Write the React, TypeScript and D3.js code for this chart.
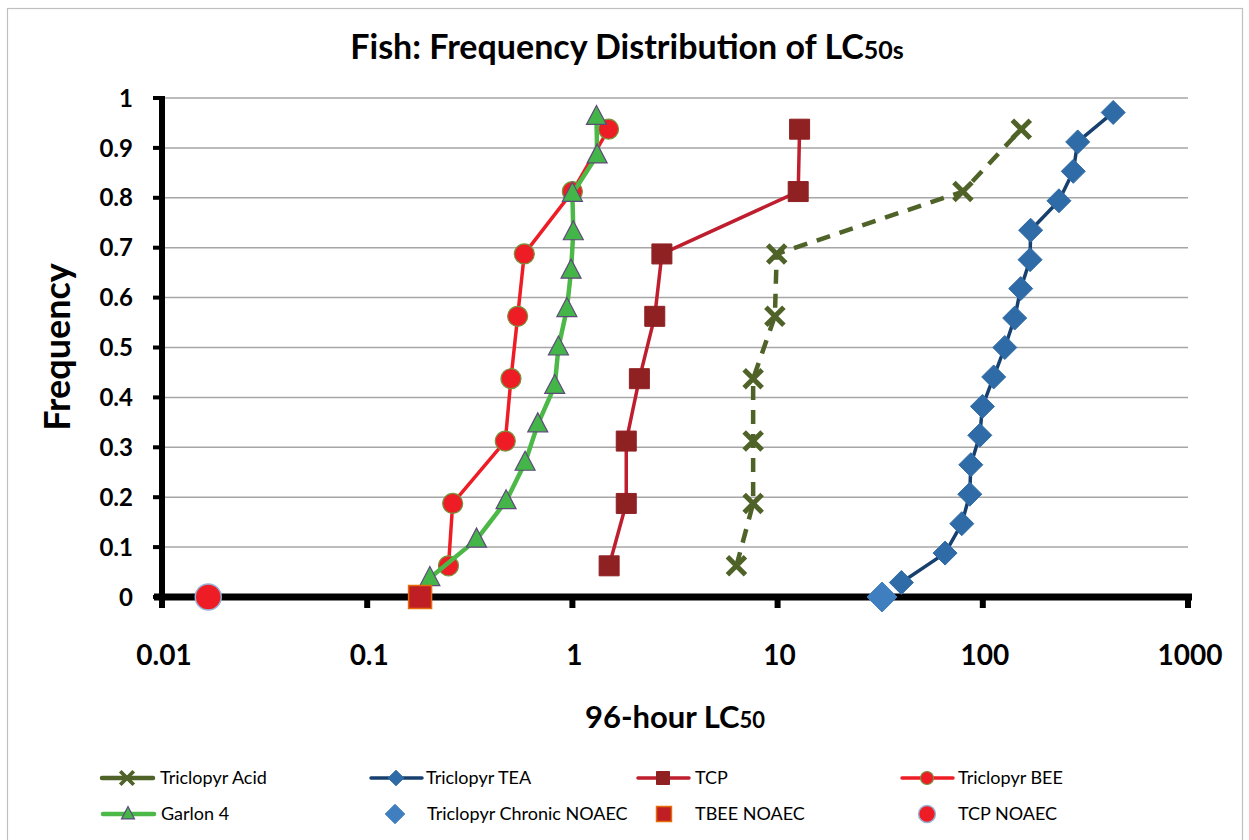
import * as d3 from 'd3';

const WIDTH = 1249;
const HEIGHT = 840;
const PLOT = { left: 162, right: 1188, top: 98, bottom: 597 };
const FONT = 'Lato, "Open Sans", sans-serif';

// frequency ranks
const freq8 = [0.0625, 0.1875, 0.3125, 0.4375, 0.5625, 0.6875, 0.8125, 0.9375];
const freq13 = [0.038, 0.115, 0.192, 0.269, 0.346, 0.423, 0.5, 0.577, 0.654, 0.731, 0.808, 0.885, 0.962];
const freq17 = [0.029, 0.088, 0.147, 0.206, 0.265, 0.324, 0.382, 0.441, 0.5, 0.559, 0.618, 0.676, 0.735, 0.794, 0.853, 0.912, 0.971];

// 96-hour LC50 values (log x axis)
const acidLC50 = [6.3, 7.6, 7.6, 7.6, 9.7, 9.9, 80, 154];
const teaLC50 = [40.1, 65.5, 79, 86.4, 87.4, 96.7, 99.6, 113, 128, 143, 153, 170, 171, 235, 276, 290, 432];
const tcpLC50 = [1.51, 1.83, 1.83, 2.12, 2.52, 2.73, 12.6, 12.8];
const beeLC50 = [0.249, 0.261, 0.471, 0.502, 0.541, 0.583, 1.0, 1.5];
const garlonLC50 = [0.202, 0.341, 0.475, 0.588, 0.678, 0.82, 0.855, 0.94, 0.985, 1.01, 1.0, 1.32, 1.31];

// NOAEC points sit on frequency 0
const chronicNOAEC = [32.3];
const tbeeNOAEC = [0.181];
const tcpNOAEC = [0.0168];

const xTicks = [0.01, 0.1, 1, 10, 100, 1000];
const xTickLabels = ['0.01', '0.1', '1', '10', '100', '1000'];
const yTicks = [0, 0.1, 0.2, 0.3, 0.4, 0.5, 0.6, 0.7, 0.8, 0.9, 1];
const yTickLabels = ['0', '0.1', '0.2', '0.3', '0.4', '0.5', '0.6', '0.7', '0.8', '0.9', '1'];

type Marker = 'x' | 'diamond' | 'square' | 'circle' | 'triangle';

type Series = {
  name: string;
  xs: number[];
  ys: number[];
  line?: string;
  lineWidth?: number;
  dash?: string;
  marker: Marker;
  size: number;
  fill: string;
  stroke: string;
  strokeWidth: number;
};

const series: Series[] = [
  { name: 'Triclopyr Acid', xs: acidLC50, ys: freq8, line: '#4f6228', lineWidth: 4.5, dash: '14,10', marker: 'x', size: 9, fill: 'none', stroke: '#4f6228', strokeWidth: 5 },
  { name: 'Triclopyr TEA', xs: teaLC50, ys: freq17, line: '#17406e', lineWidth: 3.5, marker: 'diamond', size: 12, fill: '#2f6ba6', stroke: '#2f6ba6', strokeWidth: 1 },
  { name: 'TCP', xs: tcpLC50, ys: freq8, line: '#be1e2d', lineWidth: 3.5, marker: 'square', size: 10, fill: '#8f2123', stroke: '#8f2123', strokeWidth: 1 },
  { name: 'Triclopyr BEE', xs: beeLC50, ys: freq8, line: '#ee1c25', lineWidth: 3.5, marker: 'circle', size: 10, fill: '#ee1c25', stroke: '#77933c', strokeWidth: 1.2 },
  { name: 'Garlon 4', xs: garlonLC50, ys: freq13, line: '#4cb848', lineWidth: 4.5, marker: 'triangle', size: 10, fill: '#43b549', stroke: '#604a7b', strokeWidth: 1.2 },
  { name: 'Triclopyr Chronic NOAEC', xs: chronicNOAEC, ys: [0], marker: 'diamond', size: 15, fill: '#3f7fbf', stroke: '#3f7fbf', strokeWidth: 1 },
  { name: 'TBEE NOAEC', xs: tbeeNOAEC, ys: [0], marker: 'square', size: 11.5, fill: '#be1e24', stroke: '#e46c0a', strokeWidth: 1.5 },
  { name: 'TCP NOAEC', xs: tcpNOAEC, ys: [0], marker: 'circle', size: 13, fill: '#ee1c25', stroke: '#95b3d7', strokeWidth: 1.5 },
];

// legend slots: [x of symbol center, x of text, y]
const legendSlots: [number, number, number][] = [
  [127, 160, 778],
  [396, 426, 778],
  [663, 695, 778],
  [927, 958, 778],
  [128, 161, 814],
  [395, 427, 814],
  [664, 695, 814],
  [927, 958, 814],
];

const markerPath = (m: Marker, s: number) => {
  switch (m) {
    case 'x':
      return `M${-s},${-s}L${s},${s}M${-s},${s}L${s},${-s}`;
    case 'diamond':
      return `M0,${-s}L${s},0L0,${s}L${-s},0Z`;
    case 'square':
      return `M${-s},${-s}H${s}V${s}H${-s}Z`;
    case 'triangle':
      return `M0,${-s * 1.15}L${s},${s * 0.75}L${-s},${s * 0.75}Z`;
    default:
      return '';
  }
};

const MarkerShape = ({ s, x, y, scale = 1 }: { s: Series; x: number; y: number; scale?: number }) => {
  const size = s.size * scale;
  if (s.marker === 'circle') {
    return <circle cx={x} cy={y} r={size} fill={s.fill} stroke={s.stroke} strokeWidth={s.strokeWidth} />;
  }
  return (
    <path
      transform={`translate(${x},${y})`}
      d={markerPath(s.marker, size)}
      fill={s.fill}
      stroke={s.stroke}
      strokeWidth={s.marker === 'x' ? s.strokeWidth * scale : s.strokeWidth}
    />
  );
};

const App = () => {
  const xScale = d3.scaleLog().domain([0.01, 1000]).range([PLOT.left, PLOT.right]);
  const yScale = d3.scaleLinear().domain([0, 1]).range([PLOT.bottom, PLOT.top]);

  const line = d3
    .line<[number, number]>()
    .x((d) => xScale(d[0]))
    .y((d) => yScale(d[1]));

  return (
    <svg width={WIDTH} height={HEIGHT} style={{ position: 'absolute', left: 0, top: 0 }} fontFamily={FONT}>
      <rect x={0} y={0} width={WIDTH} height={HEIGHT} fill="#ffffff" />
      <rect x={7.5} y={8.5} width={WIDTH - 14} height={HEIGHT - 6} fill="none" stroke="#bfbfbf" strokeWidth={1.2} />

      {/* title */}
      <text x={627} y={59} textAnchor="middle" fontSize={34} fontWeight="bold" fill="#000">
        Fish: Frequency Distribution of LC<tspan fontSize={25}>50s</tspan>
      </text>

      {/* gridlines */}
      {yTicks.slice(1).map((v) => (
        <line key={v} x1={PLOT.left} x2={PLOT.right} y1={yScale(v)} y2={yScale(v)} stroke="#a6a6a6" strokeWidth={1.5} />
      ))}

      {/* y axis */}
      <line x1={PLOT.left} x2={PLOT.left} y1={PLOT.top - 2} y2={PLOT.bottom} stroke="#000" strokeWidth={6} />
      {yTicks.map((v, i) => (
        <g key={v}>
          <line x1={PLOT.left - 9} x2={PLOT.left} y1={yScale(v)} y2={yScale(v)} stroke="#000" strokeWidth={4} />
          <text x={133} y={yScale(v)} dy="0.36em" textAnchor="end" fontSize={24} fontWeight="bold">
            {yTickLabels[i]}
          </text>
        </g>
      ))}

      {/* x axis */}
      <line x1={PLOT.left - 8} x2={PLOT.right + 4} y1={PLOT.bottom} y2={PLOT.bottom} stroke="#000" strokeWidth={7} />
      {xTicks.map((v, i) => (
        <g key={v}>
          <line x1={xScale(v)} x2={xScale(v)} y1={PLOT.bottom} y2={PLOT.bottom + 11} stroke="#000" strokeWidth={6} />
          <text x={xScale(v) + 2} y={665} textAnchor="middle" fontSize={28} fontWeight="bold">
            {xTickLabels[i]}
          </text>
        </g>
      ))}

      {/* axis titles */}
      <text transform="translate(70,347) rotate(-90)" textAnchor="middle" fontSize={36} fontWeight="bold">
        Frequency
      </text>
      <text x={675} y={728} textAnchor="middle" fontSize={31} fontWeight="bold">
        96-hour LC<tspan fontSize={22}>50</tspan>
      </text>

      {/* series */}
      {series.map((s) => {
        const pts = s.xs.map((x, i) => [x, s.ys[i]] as [number, number]);
        return (
          <g key={s.name}>
            {s.line && (
              <path
                d={line(pts) ?? ''}
                fill="none"
                stroke={s.line}
                strokeWidth={s.lineWidth}
                strokeDasharray={s.dash}
                strokeLinejoin="round"
              />
            )}
            {pts.map((p, i) => (
              <MarkerShape key={i} s={s} x={xScale(p[0])} y={yScale(p[1])} />
            ))}
          </g>
        );
      })}

      {/* legend */}
      {series.map((s, i) => {
        const [cx, tx, y] = legendSlots[i];
        return (
          <g key={s.name}>
            {s.line && (
              <line x1={cx - 25} x2={cx + 26} y1={y} y2={y} stroke={s.line} strokeWidth={s.lineWidth} strokeLinecap="round" />
            )}
            <MarkerShape s={s} x={cx} y={y} scale={s.marker === 'x' ? 0.75 : 0.65} />
            <text x={tx} y={y} dy="0.35em" fontSize={18} fill="#000">
              {s.name}
            </text>
          </g>
        );
      })}
    </svg>
  );
};

export default App;
